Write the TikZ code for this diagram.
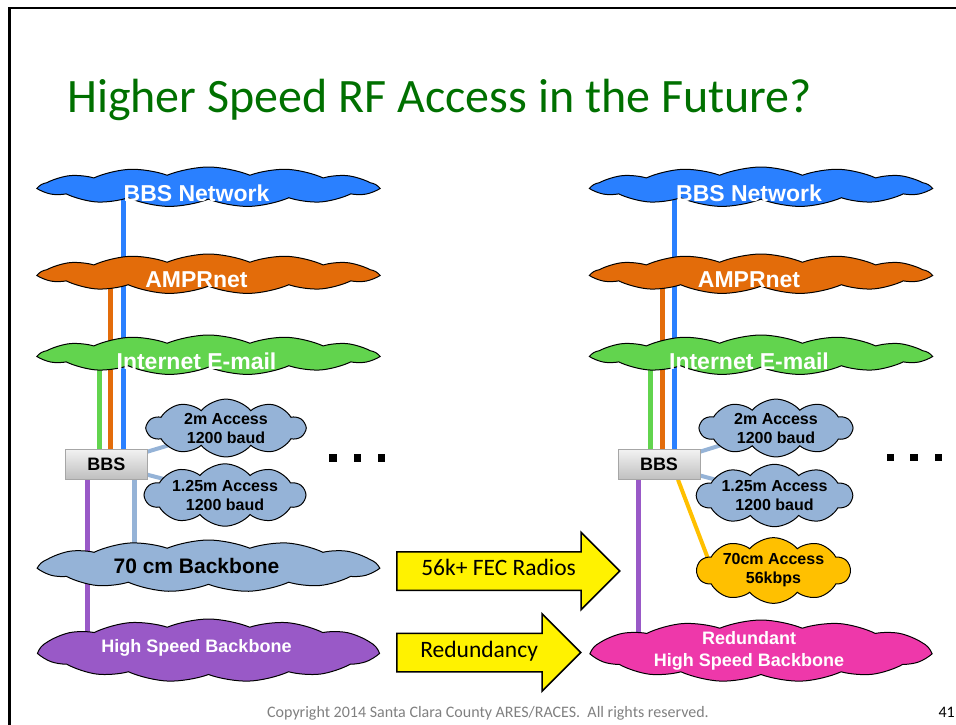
\documentclass[tikz,border=0pt]{standalone}
\usepackage{fontspec}
\setmainfont{Carlito}
\newfontfamily\arialfont{Liberation Sans}
\usepackage{tikz}
\usetikzlibrary{shapes.symbols, shapes.arrows, backgrounds, positioning}
\definecolor{netblue}{RGB}{42,128,255}
\definecolor{amprorange}{RGB}{227,108,10}
\definecolor{mailgreen}{RGB}{98,212,78}
\definecolor{accblue}{RGB}{149,179,215}
\definecolor{hsbpurple}{RGB}{153,89,199}
\definecolor{redpink}{RGB}{238,56,170}
\definecolor{acc70}{RGB}{255,192,0}
\definecolor{titlegreen}{RGB}{0,112,0}
\definecolor{footgray}{RGB}{128,128,128}

\begin{document}
\begin{tikzpicture}[x=1pt,y=-1pt,
    bigcloud/.style={cloud, cloud puffs=13, cloud puff arc=45, cloud ignores aspect,
      draw=black, line width=1pt, minimum width=337pt, minimum height=40pt, inner sep=0pt},
    smallcloud/.style={cloud, cloud puffs=10, cloud puff arc=100, cloud ignores aspect,
      draw=black, line width=1pt, fill=accblue, inner sep=0pt, align=center,
      font=\arialfont\bfseries\fontsize{16}{19}\selectfont},
    wtxt/.style={text=white, inner sep=0pt, font=\arialfont\bfseries\fontsize{23}{27}\selectfont},
    server/.style={draw=gray!70, top color=gray!10, bottom color=gray!50,
      minimum width=82pt, minimum height=30pt, inner sep=0pt,
      font=\arialfont\bfseries\fontsize{18}{20}\selectfont},
    wire/.style={line width=5pt},
    thinwire/.style={line width=4pt},
    yarrow/.style={single arrow, draw=black, line width=1.5pt, fill=yellow,
      single arrow head extend=19.5pt, anchor=tail, text height=14pt, text depth=5pt,
      inner ysep=9pt, inner xsep=4pt, font=\fontsize{23.5}{28}\selectfont}]
  \useasboundingbox (0,0) rectangle (956,724);
  \draw[line width=2.2pt] (9.5,730) |- (962,8);

  \node[anchor=base west, inner sep=0pt, text=titlegreen, font=\fontsize{48}{57}\selectfont]
    (title) at (67,112) {Higher Speed RF Access in the Future?};

  % left column
  \node[bigcloud, fill=netblue, label={[wtxt, xshift=-12pt, yshift=-6pt]center:BBS Network}] (netL) at (208.5,187) {};
  \node[bigcloud, fill=amprorange, label={[wtxt, xshift=-12pt, yshift=-6pt]center:AMPRnet}] (amprL) at (208.5,274) {};
  \node[bigcloud, fill=mailgreen, label={[wtxt, xshift=-12pt, yshift=-6pt]center:Internet E-mail}] (mailL) at (208.5,355) {};
  \node[server] (bbsL) at (106.5,464) {BBS};
  \node[smallcloud, minimum width=158pt, minimum height=50pt] (acc2L) at (226,428) {2m Access\\1200 baud};
  \node[smallcloud, minimum width=160pt, minimum height=54pt] (acc125L) at (225,495) {1.25m Access\\1200 baud};
  \node[bigcloud, fill=accblue, minimum height=52pt,
    label={[wtxt, text=black, xshift=-12pt, font=\arialfont\bfseries\fontsize{21}{25}\selectfont]center:70 cm Backbone}] (bb70L) at (208.5,566) {};
  \node[bigcloud, fill=hsbpurple, minimum height=63pt,
    label={[wtxt, xshift=-12pt, yshift=3pt, font=\arialfont\bfseries\fontsize{18}{22}\selectfont]center:High Speed Backbone}] (hsbL) at (208.5,650.5) {};
  \foreach \x in {333,357.5,381.5}
    \fill (\x-3.75,454) rectangle ++(7.5,7.5);

  % right column
  \node[bigcloud, fill=netblue, label={[wtxt, xshift=-12pt, yshift=-6pt]center:BBS Network}] (netR) at (761,187) {};
  \node[bigcloud, fill=amprorange, label={[wtxt, xshift=-12pt, yshift=-6pt]center:AMPRnet}] (amprR) at (761,274) {};
  \node[bigcloud, fill=mailgreen, label={[wtxt, xshift=-12pt, yshift=-6pt]center:Internet E-mail}] (mailR) at (761,355) {};
  \node[server] (bbsR) at (659,464.5) {BBS};
  \node[smallcloud, minimum width=152pt, minimum height=48pt] (acc2R) at (776,428) {2m Access\\1200 baud};
  \node[smallcloud, minimum width=155pt, minimum height=55pt] (acc125R) at (774.5,495.5) {1.25m Access\\1200 baud};
  \node[smallcloud, fill=acc70, minimum width=153pt, minimum height=55pt] (acc70R) at (773.5,570.5) {70cm Access\\56kbps};
  \node[bigcloud, fill=redpink, minimum width=337pt, minimum height=62pt,
    label={[wtxt, xshift=-12pt, align=center, font=\arialfont\bfseries\fontsize{18}{22}\selectfont]center:Redundant\\High Speed Backbone}] (redR) at (761,651) {};
  \foreach \x in {890.5,914,938.5}
    \fill (\x-3.75,453.5) rectangle ++(7.5,7.5);

  % block arrows
  \node[yarrow, minimum height=223pt] (fec) at (396,571) {56k+ FEC Radios};
  \node[yarrow, minimum height=184pt] (redund) at (396,652.5) {Redundancy};

  \node[anchor=base, inner sep=0pt, text=footgray, font=\fontsize{16}{19}\selectfont]
    (copy) at (488,717) {Copyright 2014 Santa Clara County ARES/RACES.\ \ All rights reserved.};
  \node[anchor=base east, inner sep=0pt, font=\fontsize{16}{19}\selectfont] (page) at (955,717) {41};

  \begin{scope}[on background layer]
    \draw[wire, netblue] ([xshift=16.5pt]bbsL.north) -- ([xshift=16.5pt]bbsL.north |- netL.center);
    \draw[wire, amprorange] ([xshift=4pt]bbsL.north) -- ([xshift=4pt]bbsL.north |- amprL.center);
    \draw[wire, mailgreen] ([xshift=-7pt]bbsL.north) -- ([xshift=-7pt]bbsL.north |- mailL.center);
    \draw[wire, hsbpurple] ([xshift=-19pt]bbsL.south) -- ([xshift=-19pt]bbsL.south |- hsbL.center);
    \draw[wire, accblue] ([xshift=28pt]bbsL.south) -- ([xshift=28pt]bbsL.south |- bb70L.center);
    \draw[thinwire, accblue] (bbsL.center) -- (acc2L.center);
    \draw[thinwire, accblue] (bbsL.center) -- (acc125L.center);

    \draw[wire, netblue] ([xshift=15pt]bbsR.north) -- ([xshift=15pt]bbsR.north |- netR.center);
    \draw[wire, amprorange] ([xshift=3.5pt]bbsR.north) -- ([xshift=3.5pt]bbsR.north |- amprR.center);
    \draw[wire, mailgreen] ([xshift=-8.5pt]bbsR.north) -- ([xshift=-8.5pt]bbsR.north |- mailR.center);
    \draw[wire, hsbpurple] ([xshift=-20.5pt]bbsR.south) -- ([xshift=-20.5pt]bbsR.south |- redR.center);
    \draw[thinwire, accblue] (bbsR.center) -- (acc2R.center);
    \draw[thinwire, accblue] (bbsR.center) -- (acc125R.center);
    \draw[thinwire, acc70] ([xshift=19pt]bbsR.south) -- ([xshift=18pt, yshift=-4pt]acc70R.west);
  \end{scope}
\end{tikzpicture}
\end{document}
